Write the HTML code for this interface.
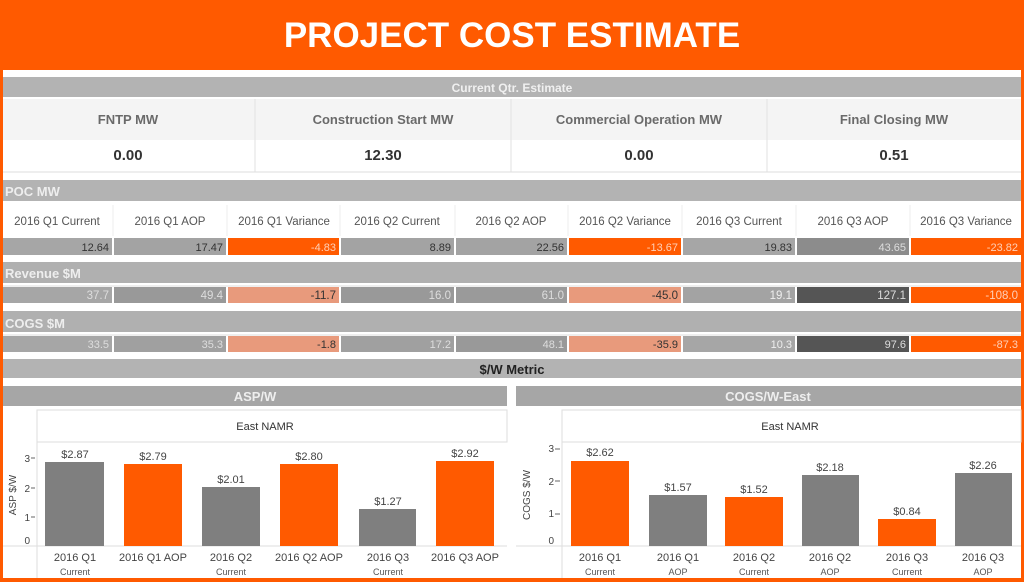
<!DOCTYPE html>
<html><head><meta charset="utf-8"><style>
html,body{margin:0;padding:0;background:#fff;}
svg{display:block;font-family:"Liberation Sans",sans-serif;}
</style></head><body>
<svg width="1024" height="582" viewBox="0 0 1024 582" xmlns="http://www.w3.org/2000/svg">
<rect x="0" y="0" width="1024" height="582" fill="#ff5a00"/>
<rect x="3" y="70" width="1018" height="508" fill="#fff"/>
<text x="512" y="47" text-anchor="middle" font-size="35" font-weight="bold" fill="#fff">PROJECT COST ESTIMATE</text>

<!-- Current Qtr -->
<rect x="3" y="77" width="1018" height="20" fill="#b3b3b3"/>
<text x="512" y="92" text-anchor="middle" font-size="12" font-weight="bold" fill="#f0f0f0">Current Qtr. Estimate</text>
<rect x="3" y="99" width="1018" height="41" fill="#f4f4f4"/>
<g stroke="#e2e2e2"><line x1="255" y1="99" x2="255" y2="172"/><line x1="511" y1="99" x2="511" y2="172"/><line x1="767" y1="99" x2="767" y2="172"/></g>
<line x1="3" y1="172" x2="1021" y2="172" stroke="#ddd"/>
<g font-size="13" font-weight="bold" fill="#6a6a6a" text-anchor="middle">
<text x="128" y="124">FNTP MW</text><text x="383" y="124">Construction Start MW</text><text x="639" y="124">Commercial Operation MW</text><text x="894" y="124">Final Closing MW</text></g>
<g font-size="15" font-weight="bold" fill="#333" text-anchor="middle">
<text x="128" y="160">0.00</text><text x="383" y="160">12.30</text><text x="639" y="160">0.00</text><text x="894" y="160">0.51</text></g>

<!-- POC -->
<rect x="3" y="180" width="1018" height="21" fill="#b3b3b3"/>
<text x="5" y="196" font-size="13" font-weight="bold" fill="#eee">POC MW</text>
<g stroke="#eee"><line x1="113" y1="205" x2="113" y2="236"/><line x1="227" y1="205" x2="227" y2="236"/><line x1="340" y1="205" x2="340" y2="236"/><line x1="455" y1="205" x2="455" y2="236"/><line x1="568" y1="205" x2="568" y2="236"/><line x1="682" y1="205" x2="682" y2="236"/><line x1="796" y1="205" x2="796" y2="236"/><line x1="910" y1="205" x2="910" y2="236"/></g>
<g font-size="11.5" fill="#555" text-anchor="middle">
<text x="57" y="225">2016 Q1 Current</text><text x="170" y="225">2016 Q1 AOP</text><text x="284" y="225">2016 Q1 Variance</text><text x="397" y="225">2016 Q2 Current</text><text x="511" y="225">2016 Q2 AOP</text><text x="625" y="225">2016 Q2 Variance</text><text x="739" y="225">2016 Q3 Current</text><text x="853" y="225">2016 Q3 AOP</text><text x="966" y="225">2016 Q3 Variance</text></g>
<g>
<rect x="3" y="238" width="109" height="17" fill="#a6a6a6"/><rect x="114" y="238" width="112" height="17" fill="#a3a3a3"/><rect x="228" y="238" width="111" height="17" fill="#ff5a00"/><rect x="341" y="238" width="113" height="17" fill="#a3a3a3"/><rect x="456" y="238" width="111" height="17" fill="#a3a3a3"/><rect x="569" y="238" width="112" height="17" fill="#ff5a00"/><rect x="683" y="238" width="112" height="17" fill="#a6a6a6"/><rect x="797" y="238" width="112" height="17" fill="#8c8c8c"/><rect x="911" y="238" width="110" height="17" fill="#ff5a00"/>
</g>
<g font-size="11" text-anchor="end">
<text x="109" y="251" fill="#333">12.64</text><text x="223" y="251" fill="#333">17.47</text><text x="336" y="251" fill="#ffd0b8">-4.83</text><text x="451" y="251" fill="#333">8.89</text><text x="564" y="251" fill="#333">22.56</text><text x="678" y="251" fill="#ffd0b8">-13.67</text><text x="792" y="251" fill="#333">19.83</text><text x="906" y="251" fill="#ddd">43.65</text><text x="1018" y="251" fill="#ffd0b8">-23.82</text></g>

<!-- Revenue -->
<rect x="3" y="262" width="1018" height="21" fill="#b0b0b0"/>
<text x="5" y="278" font-size="13" font-weight="bold" fill="#eee">Revenue $M</text>
<rect x="3" y="285" width="1018" height="2" fill="#eee"/>
<rect x="3" y="287" width="109" height="16" fill="#a6a6a6"/><rect x="114" y="287" width="112" height="16" fill="#999"/><rect x="228" y="287" width="111" height="16" fill="#e89a7c"/><rect x="341" y="287" width="113" height="16" fill="#999"/><rect x="456" y="287" width="111" height="16" fill="#9a9a9a"/><rect x="569" y="287" width="112" height="16" fill="#e89a7c"/><rect x="683" y="287" width="112" height="16" fill="#a3a3a3"/><rect x="797" y="287" width="112" height="16" fill="#555"/><rect x="911" y="287" width="110" height="16" fill="#ff5a00"/>
<g font-size="11.5" text-anchor="end">
<text x="109" y="299" fill="#ddd">37.7</text><text x="223" y="299" fill="#ddd">49.4</text><text x="336" y="299" fill="#333">-11.7</text><text x="451" y="299" fill="#ddd">16.0</text><text x="564" y="299" fill="#ddd">61.0</text><text x="678" y="299" fill="#333">-45.0</text><text x="792" y="299" fill="#eee">19.1</text><text x="906" y="299" fill="#ddd">127.1</text><text x="1018" y="299" fill="#ffd0b8">-108.0</text></g>

<!-- COGS -->
<rect x="3" y="311" width="1018" height="21" fill="#b0b0b0"/>
<text x="5" y="328" font-size="13" font-weight="bold" fill="#eee">COGS $M</text>
<rect x="3" y="334" width="1018" height="2" fill="#eee"/>
<rect x="3" y="336" width="109" height="16" fill="#a6a6a6"/><rect x="114" y="336" width="112" height="16" fill="#a0a0a0"/><rect x="228" y="336" width="111" height="16" fill="#e89a7c"/><rect x="341" y="336" width="113" height="16" fill="#a0a0a0"/><rect x="456" y="336" width="111" height="16" fill="#999"/><rect x="569" y="336" width="112" height="16" fill="#e89a7c"/><rect x="683" y="336" width="112" height="16" fill="#a6a6a6"/><rect x="797" y="336" width="112" height="16" fill="#555"/><rect x="911" y="336" width="110" height="16" fill="#ff5a00"/>
<g font-size="11" text-anchor="end">
<text x="109" y="348" fill="#ddd">33.5</text><text x="223" y="348" fill="#ddd">35.3</text><text x="336" y="348" fill="#333">-1.8</text><text x="451" y="348" fill="#ddd">17.2</text><text x="564" y="348" fill="#ddd">48.1</text><text x="678" y="348" fill="#333">-35.9</text><text x="792" y="348" fill="#eee">10.3</text><text x="906" y="348" fill="#ddd">97.6</text><text x="1018" y="348" fill="#ffd0b8">-87.3</text></g>

<!-- $/W Metric -->
<rect x="3" y="359" width="1018" height="19" fill="#b3b3b3"/>
<text x="512" y="374" text-anchor="middle" font-size="13" font-weight="bold" fill="#222">$/W Metric</text>

<!-- Left panel -->
<rect x="3" y="386" width="504" height="20" fill="#a6a6a6"/>
<text x="255" y="401" text-anchor="middle" font-size="13" font-weight="bold" fill="#eee">ASP/W</text>
<rect x="37" y="410" width="470" height="32" fill="#fff" stroke="#ddd"/>
<line x1="37" y1="410" x2="37" y2="578" stroke="#ddd"/>
<line x1="3" y1="546" x2="507" y2="546" stroke="#ddd"/>
<text x="265" y="430" text-anchor="middle" font-size="11" fill="#333">East NAMR</text>
<text transform="translate(16,495) rotate(-90)" text-anchor="middle" font-size="10" fill="#444">ASP $/W</text>
<g font-size="10" fill="#444" text-anchor="end"><text x="30" y="462">3</text><text x="30" y="492">2</text><text x="30" y="521">1</text><text x="30" y="544">0</text></g>
<g stroke="#666"><line x1="31" y1="458" x2="35" y2="458"/><line x1="31" y1="488" x2="35" y2="488"/><line x1="31" y1="517" x2="35" y2="517"/></g>
<rect x="45" y="462" width="59" height="84" fill="#7f7f7f"/>
<rect x="124" y="464" width="58" height="82" fill="#ff5a00"/>
<rect x="202" y="487" width="58" height="59" fill="#7f7f7f"/>
<rect x="280" y="464" width="58" height="82" fill="#ff5a00"/>
<rect x="359" y="509" width="57" height="37" fill="#7f7f7f"/>
<rect x="436" y="461" width="58" height="85" fill="#ff5a00"/>
<g font-size="11" fill="#444" text-anchor="middle">
<text x="75" y="458">$2.87</text><text x="153" y="460">$2.79</text><text x="231" y="483">$2.01</text><text x="309" y="460">$2.80</text><text x="388" y="505">$1.27</text><text x="465" y="457">$2.92</text>
<text x="75" y="561">2016 Q1</text><text x="153" y="561">2016 Q1 AOP</text><text x="231" y="561">2016 Q2</text><text x="309" y="561">2016 Q2 AOP</text><text x="388" y="561">2016 Q3</text><text x="465" y="561">2016 Q3 AOP</text></g>
<g font-size="9" fill="#555" text-anchor="middle"><text x="75" y="575">Current</text><text x="231" y="575">Current</text><text x="388" y="575">Current</text></g>

<!-- Right panel -->
<rect x="516" y="386" width="505" height="20" fill="#a6a6a6"/>
<text x="768" y="401" text-anchor="middle" font-size="13" font-weight="bold" fill="#eee">COGS/W-East</text>
<rect x="562" y="410" width="459" height="32" fill="#fff" stroke="#ddd"/>
<line x1="562" y1="410" x2="562" y2="578" stroke="#ddd"/>
<line x1="516" y1="546" x2="1021" y2="546" stroke="#ddd"/>
<text x="790" y="430" text-anchor="middle" font-size="11" fill="#333">East NAMR</text>
<text transform="translate(530,495) rotate(-90)" text-anchor="middle" font-size="10" fill="#444">COGS $/W</text>
<g font-size="10" fill="#444" text-anchor="end"><text x="554" y="452">3</text><text x="554" y="485">2</text><text x="554" y="517">1</text><text x="554" y="544">0</text></g>
<g stroke="#666"><line x1="555" y1="449" x2="560" y2="449"/><line x1="555" y1="481" x2="560" y2="481"/><line x1="555" y1="514" x2="560" y2="514"/></g>
<rect x="571" y="461" width="58" height="85" fill="#ff5a00"/>
<rect x="649" y="495" width="58" height="51" fill="#7f7f7f"/>
<rect x="725" y="497" width="58" height="49" fill="#ff5a00"/>
<rect x="802" y="475" width="57" height="71" fill="#7f7f7f"/>
<rect x="878" y="519" width="58" height="27" fill="#ff5a00"/>
<rect x="955" y="473" width="57" height="73" fill="#7f7f7f"/>
<g font-size="11" fill="#444" text-anchor="middle">
<text x="600" y="456">$2.62</text><text x="678" y="491">$1.57</text><text x="754" y="493">$1.52</text><text x="830" y="471">$2.18</text><text x="907" y="515">$0.84</text><text x="983" y="469">$2.26</text>
<text x="600" y="561">2016 Q1</text><text x="678" y="561">2016 Q1</text><text x="754" y="561">2016 Q2</text><text x="830" y="561">2016 Q2</text><text x="907" y="561">2016 Q3</text><text x="983" y="561">2016 Q3</text></g>
<g font-size="9" fill="#555" text-anchor="middle"><text x="600" y="575">Current</text><text x="678" y="575">AOP</text><text x="754" y="575">Current</text><text x="830" y="575">AOP</text><text x="907" y="575">Current</text><text x="983" y="575">AOP</text></g>
</svg>
</body></html>
